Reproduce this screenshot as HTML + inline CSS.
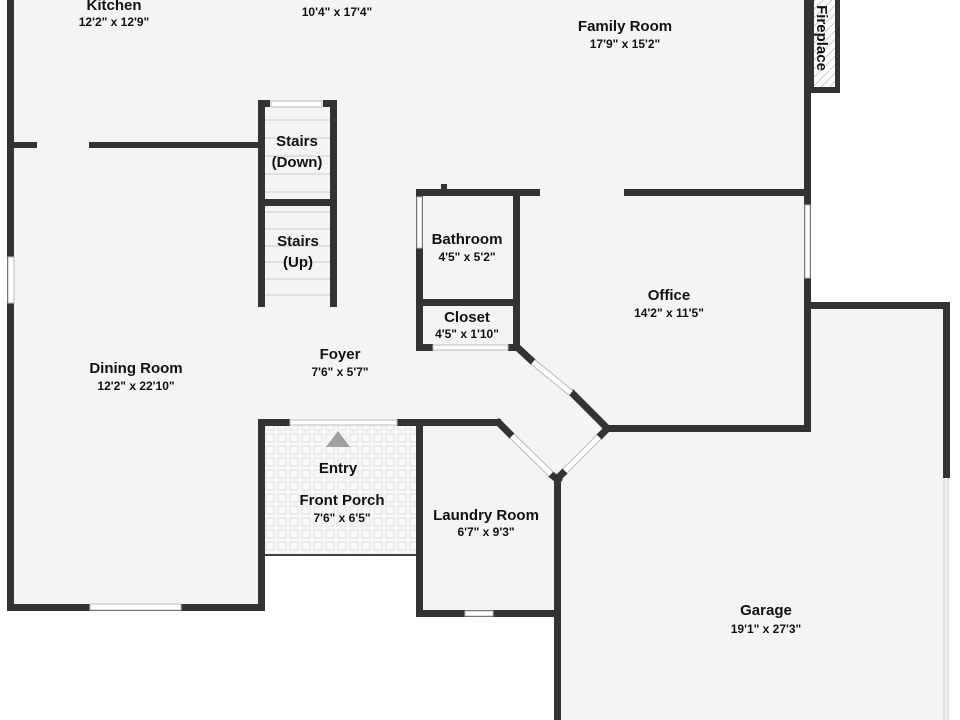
<!DOCTYPE html>
<html><head><meta charset="utf-8"><style>html,body{margin:0;padding:0;background:#fff}svg{display:block}text{font-family:"Liberation Sans",sans-serif;font-weight:bold;fill:#111;text-anchor:middle}.n{font-size:15px}.d{font-size:12px}</style></head><body>
<svg width="960" height="720" viewBox="0 0 960 720" xmlns="http://www.w3.org/2000/svg">
<defs>
<pattern id="tile" width="12" height="12" patternUnits="userSpaceOnUse"><rect width="12" height="12" fill="#f8f8f8"/><rect x="2" y="2" width="8" height="8" fill="none" stroke="#e2e2e2" stroke-width="1"/></pattern>
<pattern id="hatch" width="6" height="6" patternUnits="userSpaceOnUse" patternTransform="rotate(45)"><rect width="6" height="6" fill="#fff"/><line x1="0" y1="0" x2="0" y2="6" stroke="#999" stroke-width="1"/></pattern>
</defs>
<rect width="960" height="720" fill="#f4f4f4"/>
<rect x="0" y="0" width="7" height="720" fill="#fff"/>
<rect x="811" y="92" width="149" height="212" fill="#fff"/>
<rect x="838" y="0" width="122" height="92" fill="#fff"/>
<rect x="949" y="0" width="11" height="720" fill="#fff"/>
<rect x="0" y="611" width="416" height="109" fill="#fff"/>
<rect x="416" y="617" width="138" height="103" fill="#fff"/>
<rect x="264" y="556" width="152" height="56" fill="#fff"/>
<rect x="264" y="425" width="152" height="130" fill="url(#tile)"/>
<line x1="264" y1="555" x2="416" y2="555" stroke="#444" stroke-width="2"/>
<polygon points="326,447 350,447 338,431" fill="#a0a0a0"/>
<rect x="809" y="0" width="31" height="93" fill="#333"/>
<rect x="814" y="0" width="21" height="87" fill="url(#hatch)"/>
<g fill="#333">
<rect x="7" y="0" width="7" height="611"/>
<rect x="7" y="604" width="257" height="7"/>
<rect x="258" y="420" width="7" height="191"/>
<rect x="258" y="419" width="32" height="7"/>
<rect x="397" y="419" width="104" height="7"/>
<rect x="10" y="142" width="27" height="6"/>
<rect x="89" y="142" width="170" height="6"/>
<rect x="258" y="100" width="7" height="207"/>
<rect x="330" y="100" width="7" height="207"/>
<rect x="258" y="100" width="12" height="7"/>
<rect x="323" y="100" width="14" height="7"/>
<rect x="258" y="199" width="79" height="7"/>
<rect x="416" y="422" width="7" height="195"/>
<rect x="416" y="610" width="141" height="7"/>
<rect x="554" y="474" width="7" height="246"/>
<rect x="416" y="189" width="124" height="7"/>
<rect x="441" y="184" width="6" height="6"/>
<rect x="416" y="189" width="7" height="161"/>
<rect x="513" y="189" width="7" height="160"/>
<rect x="416" y="299" width="104" height="7"/>
<rect x="416" y="344" width="17" height="7"/>
<rect x="508" y="344" width="12" height="7"/>
<rect x="624" y="189" width="186" height="7"/>
<rect x="804" y="0" width="7" height="432"/>
<rect x="606" y="425" width="204" height="7"/>
<rect x="807" y="302" width="143" height="7"/>
<rect x="943" y="302" width="7" height="176"/>
</g>
<line x1="944" y1="478" x2="944" y2="720" stroke="#ccc" stroke-width="1"/>
<line x1="948" y1="478" x2="948" y2="720" stroke="#ccc" stroke-width="1"/>
<g stroke="#333" stroke-width="7" stroke-linecap="square">
<line x1="518" y1="348" x2="531" y2="360"/>
<line x1="573" y1="394" x2="607" y2="428"/>
<line x1="499" y1="423" x2="510" y2="434"/>
<line x1="553" y1="476" x2="558" y2="480"/>
<line x1="558" y1="478" x2="563" y2="473"/>
<line x1="601" y1="435" x2="607" y2="429"/>
</g>
<g stroke="#bbb" stroke-width="7">
<line x1="533" y1="362" x2="571" y2="393"/>
<line x1="512" y1="436" x2="551" y2="474"/>
<line x1="565" y1="471" x2="599" y2="437"/>
</g>
<g stroke="#fff" stroke-width="5">
<line x1="533" y1="362" x2="571" y2="393"/>
<line x1="512" y1="436" x2="551" y2="474"/>
<line x1="565" y1="471" x2="599" y2="437"/>
</g>
<g fill="#fff" stroke="#bbb" stroke-width="1">
<rect x="8" y="257" width="6" height="46"/>
<rect x="90" y="604" width="91" height="6"/>
<rect x="271" y="101" width="51" height="6"/>
<rect x="417" y="197" width="5" height="51"/>
<rect x="433" y="345" width="75" height="5"/>
<rect x="465" y="611" width="28" height="5"/>
<rect x="805" y="205" width="5" height="73"/>
<rect x="290" y="420" width="107" height="5"/>
</g>
<g stroke="#ccc" stroke-width="1">
<line x1="265" y1="120" x2="330" y2="120"/><line x1="265" y1="138" x2="330" y2="138"/><line x1="265" y1="156" x2="330" y2="156"/><line x1="265" y1="174" x2="330" y2="174"/><line x1="265" y1="192" x2="330" y2="192"/>
<line x1="265" y1="212" x2="330" y2="212"/><line x1="265" y1="229" x2="330" y2="229"/><line x1="265" y1="246" x2="330" y2="246"/><line x1="265" y1="262" x2="330" y2="262"/><line x1="265" y1="279" x2="330" y2="279"/><line x1="265" y1="295" x2="330" y2="295"/>
</g>
<text class="n" x="114" y="10">Kitchen</text><text class="d" x="114" y="26">12'2" x 12'9"</text>
<text class="d" x="337" y="16">10'4" x 17'4"</text>
<text class="n" x="625" y="31">Family Room</text><text class="d" x="625" y="48">17'9" x 15'2"</text>
<text class="n" x="297" y="146">Stairs</text><text class="n" x="297" y="167">(Down)</text>
<text class="n" x="298" y="246">Stairs</text><text class="n" x="298" y="267">(Up)</text>
<text class="n" x="467" y="244">Bathroom</text><text class="d" x="467" y="261">4'5" x 5'2"</text>
<text class="n" x="467" y="322">Closet</text><text class="d" x="467" y="338">4'5" x 1'10"</text>
<text class="n" x="669" y="300">Office</text><text class="d" x="669" y="317">14'2" x 11'5"</text>
<text class="n" x="136" y="373">Dining Room</text><text class="d" x="136" y="390">12'2" x 22'10"</text>
<text class="n" x="340" y="359">Foyer</text><text class="d" x="340" y="376">7'6" x 5'7"</text>
<text class="n" x="338" y="473">Entry</text>
<text class="n" x="342" y="505">Front Porch</text><text class="d" x="342" y="522">7'6" x 6'5"</text>
<text class="n" x="486" y="520">Laundry Room</text><text class="d" x="486" y="536">6'7" x 9'3"</text>
<text class="n" x="766" y="615">Garage</text><text class="d" x="766" y="633">19'1" x 27'3"</text>
<text class="n" transform="translate(817,38) rotate(90)" x="0" y="0">Fireplace</text>
</svg>
</body></html>
